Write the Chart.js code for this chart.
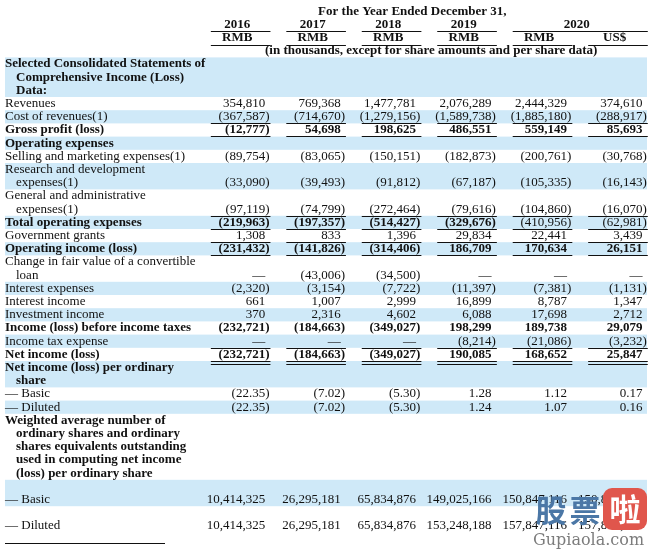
<!DOCTYPE html>
<html>
<head>
<meta charset="utf-8">
<script src="https://cdn.jsdelivr.net/npm/chart.js@4.4.1/dist/chart.umd.min.js"></script>
<style>
  html, body { margin: 0; padding: 0; background: #fff; }
  #wrap { width: 653px; height: 550px; }
</style>
</head>
<body>
<div id="wrap"><canvas id="tbl" width="653" height="550"></canvas></div>
<script>
// header texts
const titleLine = "For the Year Ended December 31,";
const unitNote = "(in thousands, except for share amounts and per share data)";
const headYears = ["2016", "2017", "2018", "2019", "2020"];
const yearSpans = [[0, 0], [1, 1], [2, 2], [3, 3], [4, 5]];
const headUnits = ["RMB", "RMB", "RMB", "RMB", "RMB", "US$"];

// row labels (continuation lines are indented)
const rowLabels = [
  ["Selected Consolidated Statements of", "Comprehensive Income (Loss)", "Data:"],
  ["Revenues"],
  ["Cost of revenues(1)"],
  ["Gross profit (loss)"],
  ["Operating expenses"],
  ["Selling and marketing expenses(1)"],
  ["Research and development", "expenses(1)"],
  ["General and administrative", "expenses(1)"],
  ["Total operating expenses"],
  ["Government grants"],
  ["Operating income (loss)"],
  ["Change in fair value of a convertible", "loan"],
  ["Interest expenses"],
  ["Interest income"],
  ["Investment income"],
  ["Income (loss) before income taxes"],
  ["Income tax expense"],
  ["Net income (loss)"],
  ["Net income (loss) per ordinary", "share"],
  ["— Basic"],
  ["— Diluted"],
  ["Weighted average number of", "ordinary shares and ordinary", "shares equivalents outstanding", "used in computing net income", "(loss) per ordinary share"],
  ["", "— Basic"],
  ["", "— Diluted"],
];

// null = blank cell, 0 = dash
const v2016 = [null, 354810, -367587, -12777, null, -89754, -33090, -97119, -219963, 1308, -231432, 0, -2320, 661, 370, -232721, 0, -232721, null, -22.35, -22.35, null, 10414325, 10414325];
const v2017 = [null, 769368, -714670, 54698, null, -83065, -39493, -74799, -197357, 833, -141826, -43006, -3154, 1007, 2316, -184663, 0, -184663, null, -7.02, -7.02, null, 26295181, 26295181];
const v2018 = [null, 1477781, -1279156, 198625, null, -150151, -91812, -272464, -514427, 1396, -314406, -34500, -7722, 2999, 4602, -349027, 0, -349027, null, -5.30, -5.30, null, 65834876, 65834876];
const v2019 = [null, 2076289, -1589738, 486551, null, -182873, -67187, -79616, -329676, 29834, 186709, 0, -11397, 16899, 6088, 198299, -8214, 190085, null, 1.28, 1.24, null, 149025166, 153248188];
const v2020rmb = [null, 2444329, -1885180, 559149, null, -200761, -105335, -104860, -410956, 22441, 170634, 0, -7381, 8787, 17698, 189738, -21086, 168652, null, 1.12, 1.07, null, 150847116, 157847116];
const v2020usd = [null, 374610, -288917, 85693, null, -30768, -16143, -16070, -62981, 3439, 26151, 0, -1131, 1347, 2712, 29079, -3232, 25847, null, 0.17, 0.16, null, 150847116, 157847116];
const columns = [v2016, v2017, v2018, v2019, v2020rmb, v2020usd];

const boldRows = [0, 3, 4, 8, 10, 15, 17, 18, 21];
const regularCells = ["8:4", "8:5"];
const singleRuleRows = [2, 3, 7, 8, 9, 10, 16];
const doubleRuleRows = [17];

const BAND = "#cfe9f8";
const INK = "#111";
const FONT = "13px 'Liberation Serif', 'Times New Roman', serif";

// first text line of every row, counted in lines
const rowLine = [];
let lineCount = 0;
rowLabels.forEach(lines => { rowLine.push(lineCount); lineCount += lines.length; });
const lastLine = r => rowLine[r] + rowLabels[r].length - 1;

function fmt(v) {
  if (v === 0) return "—";
  const opts = Number.isInteger(v) ? {} : { minimumFractionDigits: 2, maximumFractionDigits: 2 };
  const s = Math.abs(v).toLocaleString("en-US", opts);
  return v < 0 ? "(" + s + ")" : s;
}

function hline(ctx, x1, x2, y) {
  ctx.beginPath();
  ctx.moveTo(x1, Math.round(y) + 0.5);
  ctx.lineTo(x2, Math.round(y) + 0.5);
  ctx.stroke();
}

const tablePlugin = {
  id: "tableText",
  beforeDatasetsDraw(chart) {
    const { ctx, chartArea, scales: { y } } = chart;
    ctx.save();
    ctx.fillStyle = BAND;
    rowLabels.forEach((lines, r) => {
      if (r % 2) return;
      const top = y.getPixelForValue(rowLine[r] - 0.5);
      const bot = y.getPixelForValue(lastLine(r) + 0.5);
      ctx.fillRect(chartArea.left + 5, top, chartArea.right - chartArea.left - 11, bot - top);
    });
    ctx.restore();
  },
  afterDatasetsDraw(chart) {
    const { ctx, chartArea, scales: { x, y } } = chart;
    const left = chartArea.left + 5;
    ctx.save();
    ctx.fillStyle = INK;
    ctx.strokeStyle = INK;
    ctx.lineWidth = 1;
    ctx.textBaseline = "middle";
    const setFont = bold => { ctx.font = (bold ? "bold " : "") + FONT; };
    const colLeft = c => x.getPixelForValue(c - 0.72);
    const colRight = c => x.getPixelForValue(c + 0.07);
    const colMid = c => x.getPixelForValue(c - 0.37);

    // header block
    setFont(true);
    ctx.textAlign = "center";
    ctx.fillText(titleLine, x.getPixelForValue(1.95), y.getPixelForValue(-4));
    headYears.forEach((yr, i) => {
      const [a, b] = yearSpans[i];
      ctx.fillText(yr, (colMid(a) + colMid(b)) / 2, y.getPixelForValue(-3));
      hline(ctx, colLeft(a), colRight(b), y.getPixelForValue(-3) + 7);
    });
    headUnits.forEach((u, c) => {
      ctx.fillText(u, colMid(c), y.getPixelForValue(-2));
      hline(ctx, colLeft(c), colRight(c), y.getPixelForValue(-2) + 7);
    });
    ctx.fillText(unitNote, x.getPixelForValue(2.2), y.getPixelForValue(-1));

    // row labels
    ctx.textAlign = "left";
    rowLabels.forEach((lines, r) => {
      setFont(boldRows.includes(r));
      lines.forEach((t, k) => {
        const indent = k > 0 && lines[0] !== "" ? 11 : 0;
        ctx.fillText(t, left + indent, y.getPixelForValue(rowLine[r] + k));
      });
    });

    // cells
    ctx.textAlign = "right";
    columns.forEach((col, c) => {
      col.forEach((v, r) => {
        if (v === null) return;
        setFont(boldRows.includes(r) && !regularCells.includes(r + ":" + c));
        const s = fmt(v);
        const xr = x.getPixelForValue(c) + (v < 0 ? ctx.measureText(")").width : 0);
        ctx.fillText(s, xr, y.getPixelForValue(lastLine(r)));
      });
      singleRuleRows.forEach(r => {
        hline(ctx, colLeft(c), colRight(c), y.getPixelForValue(lastLine(r)) + 6.5);
      });
      doubleRuleRows.forEach(r => {
        hline(ctx, colLeft(c), colRight(c), y.getPixelForValue(lastLine(r)) + 6.5);
        hline(ctx, colLeft(c), colRight(c), y.getPixelForValue(lastLine(r)) + 9.5);
      });
    });

    // footnote rule
    hline(ctx, left, left + 160, y.getPixelForValue(lineCount + 0.3));
    ctx.restore();
  },
  afterDraw(chart) {
    // site watermark
    const { ctx } = chart;
    ctx.save();
    ctx.textAlign = "center";
    ctx.textBaseline = "middle";
    ctx.font = "bold 31px 'Noto Sans CJK SC'";
    ctx.fillStyle = "#4b77a6";
    ctx.fillText("股", 551, 510);
    ctx.fillText("票", 585, 510);
    ctx.fillStyle = "#e0564c";
    ctx.beginPath();
    ctx.roundRect(603, 488, 44, 42, 9);
    ctx.fill();
    ctx.fillStyle = "#fff";
    ctx.fillText("啦", 625, 509);
    ctx.font = "16px 'DejaVu Serif'";
    ctx.fillStyle = "#7c7c7c";
    ctx.textAlign = "left";
    ctx.fillText("Gupiaola.com", 533, 541);
    ctx.restore();
  },
};

new Chart(document.getElementById("tbl"), {
  type: "scatter",
  data: { datasets: [] },
  options: {
    responsive: false,
    animation: false,
    events: [],
    layout: { padding: 0 },
    plugins: { legend: { display: false }, tooltip: { enabled: false } },
    scales: {
      x: { type: "linear", min: -3.514, max: 5.139, display: false },
      y: { type: "linear", reverse: true, min: -4.848, max: 36.818, display: false },
    },
  },
  plugins: [tablePlugin],
});
</script>
</body>
</html>
